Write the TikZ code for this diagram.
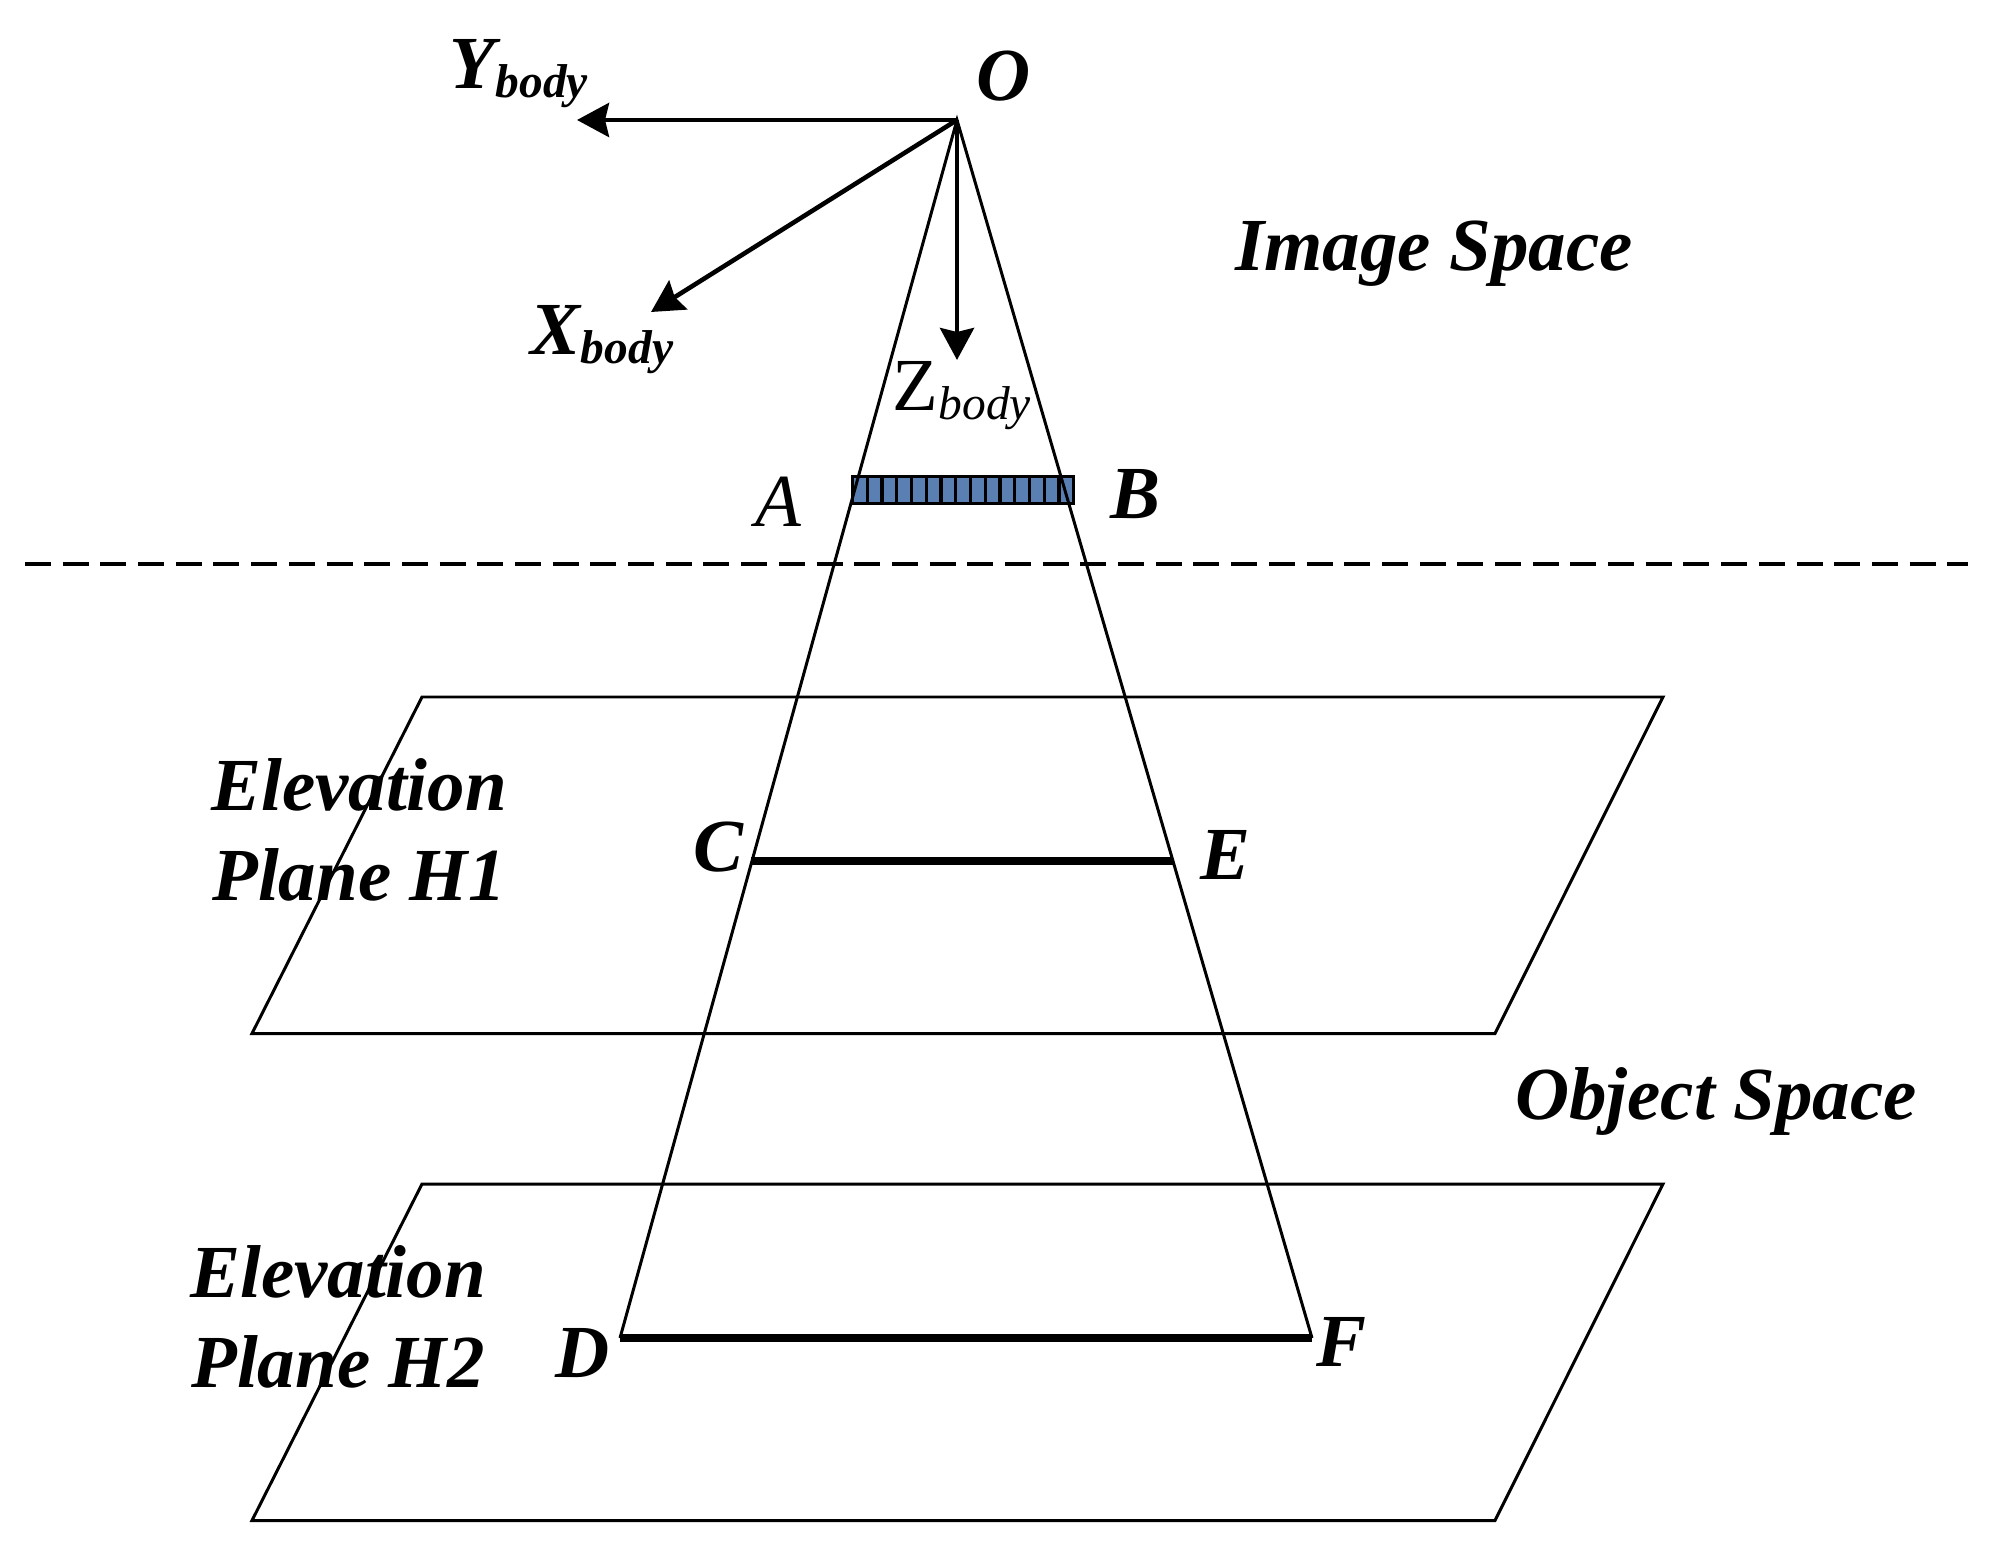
\documentclass[tikz,border=0pt]{standalone}
\usepackage{fontspec}
\setmainfont{Liberation Serif}
\usetikzlibrary{arrows.meta}
\definecolor{cellblue}{HTML}{5A80B3}
\tikzset{
  thinline/.style={line width=0.85pt},
  axisline/.style={line width=1.3pt, -{Stealth[length=3.2mm, width=3.4mm, inset=0.4mm]}},
  footline/.style={line width=2pt},
  boldlabel/.style={font=\fontsize{21.3pt}{25.6pt}\selectfont\bfseries\itshape, inner sep=0pt, align=center},
  pluslabel/.style={font=\fontsize{21.3pt}{25.6pt}\selectfont\itshape, inner sep=0pt}
}
\newcommand{\bodysub}{\raisebox{-0.12em}{\fontsize{13.5pt}{15pt}\selectfont body}}
\begin{document}
\begin{tikzpicture}[x=0.01cm, y=-0.01cm]
  \useasboundingbox (0,0) rectangle (1997,1558);

  % Apex, axis ends and the ends of the two ground lines
  \coordinate (origin) at (957,120);
  \coordinate (ytip) at (577,120);
  \coordinate (xtip) at (651,312);
  \coordinate (ztip) at (957,360);
  \coordinate (cpt) at (751,861);
  \coordinate (ept) at (1173,861);
  \coordinate (dpt) at (620,1338);
  \coordinate (fpt) at (1312,1338);
  \coordinate (dashl) at (25,564);
  \coordinate (dashr) at (1968,564);

  % Sensor cells
  \foreach \i in {0,...,14} {
    \node[draw, fill=cellblue, line width=0.85pt, minimum width=0.147cm, minimum height=0.27cm, inner sep=0pt, anchor=north west] (cell\i) at ({851+\i*14.75},475) {};
  }

  % Elevation planes
  \foreach \name/\ytop in {upper/697, lower/1184} {
    \coordinate (\name a) at (422,\ytop);
    \coordinate (\name b) at (1663,\ytop);
    \coordinate (\name c) at (1495,\ytop+336.5);
    \coordinate (\name d) at (252,\ytop+336.5);
    \draw[thinline] (\name a) -- (\name b) -- (\name c) -- (\name d) -- cycle;
  }

  % Field of view
  \draw[thinline] (dpt) -- (origin) -- (fpt);
  \draw[footline] (cpt) -- (ept);
  \draw[footline] (dpt) -- (fpt);
  \draw[line width=1.1pt, dash pattern=on 0.26cm off 0.1167cm] (dashl) -- (dashr);

  % Body axes
  \draw[axisline] (origin) -- (ytip);
  \draw[axisline] (origin) -- (xtip);
  \draw[axisline] (origin) -- (ztip);

  % Labels
  \node[boldlabel] (ylabel) at (519,74) {Y\bodysub};
  \node[boldlabel] (xlabel) at (602,340) {X\bodysub};
  \node[pluslabel] (zlabel) at (962,396) {{\upshape Z}\bodysub};
  \node[boldlabel] (olabel) at (1004,76) {O};
  \node[pluslabel] (alabel) at (778,502) {A};
  \node[boldlabel] (blabel) at (1135,494) {B};
  \node[boldlabel] (clabel) at (718,847) {C};
  \node[boldlabel] (elabel) at (1225,855) {E};
  \node[boldlabel] (dlabel) at (583,1353) {D};
  \node[boldlabel] (flabel) at (1341,1342) {F};
  \node[boldlabel] (imagespace) at (1434,254) {Image Space};
  \node[boldlabel] (objectspace) at (1716,1101) {Object Space};
  \node[boldlabel] (planeone) at (359,830) {Elevation\\Plane H1};
  \node[boldlabel] (planetwo) at (338,1317) {Elevation\\Plane H2};
\end{tikzpicture}
\end{document}
